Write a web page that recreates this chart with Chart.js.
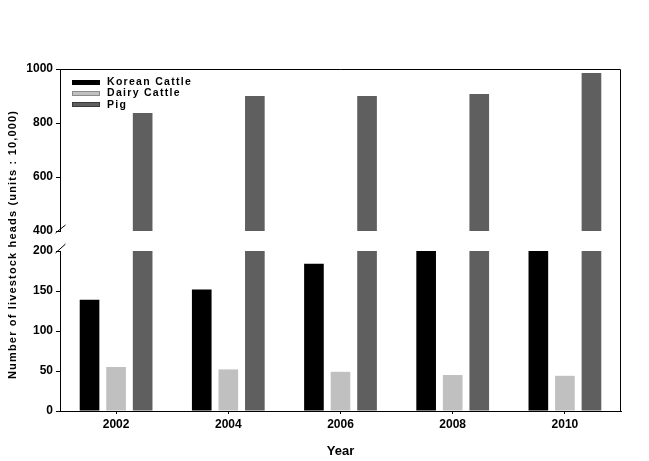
<!DOCTYPE html>
<html><head><meta charset="utf-8">
<script src="https://cdn.jsdelivr.net/npm/chart.js@4"></script>
<style>html,body{margin:0;padding:0;background:#fff;} canvas{display:block;}</style>
</head><body>
<canvas id="c" width="649" height="461"></canvas>
<script>
// ---- data ----
const years = ['2002', '2004', '2006', '2008', '2010'];
const koreanCattle = [139, 152, 184, 244, 293];
const dairyCattle = [55, 52, 49, 45, 44];
const pig = [837, 900, 900, 907, 985];
const upperTicks = [400, 600, 800, 1000];
const lowerTicks = [0, 50, 100, 150, 200];
const seriesNames = ['Korean Cattle', 'Dairy Cattle', 'Pig'];
const yTitle = 'Number of livestock heads (units : 10,000)';
const xTitle = 'Year';

const FONT = "'Liberation Sans', Arial, sans-serif";
const colors = ['#000000', '#c0c0c0', '#5f5f5f'];
const legendBorders = ['#000000', '#8a8a8a', '#3a3a3a'];

function drawSpaced(ctx, text, x, y, spacing, align, targetLen) {
  const chars = Array.from(text);
  const widths = chars.map(c => ctx.measureText(c).width);
  const natural = widths.reduce((a, b) => a + b, 0);
  if (targetLen) spacing = (targetLen - natural) / (chars.length - 1);
  const total = natural + spacing * (chars.length - 1);
  let cx = align === 'center' ? x - total / 2 : x;
  ctx.textAlign = 'left';
  chars.forEach((c, i) => { ctx.fillText(c, cx, y); cx += widths[i] + spacing; });
}

const clipPlugin = {
  id: 'panelClip',
  beforeDatasetDraw(chart, args) {
    const ys = args.meta.vScale, ca = chart.chartArea, ctx = chart.ctx;
    ctx.save();
    ctx.beginPath();
    ctx.rect(ca.left, ys.top, ca.right - ca.left, ys.bottom - ys.top);
    ctx.clip();
  },
  afterDatasetDraw(chart) { chart.ctx.restore(); }
};

const decoPlugin = {
  id: 'deco',
  afterDraw(chart) {
    const ctx = chart.ctx, ca = chart.chartArea;
    ctx.save();
    ctx.strokeStyle = '#000'; ctx.lineWidth = 1;
    const L = Math.round(ca.left) + 0.5, R = Math.round(ca.right) - 0.5, T = Math.round(ca.top) + 0.5, B = Math.round(ca.bottom);
    ctx.beginPath();
    ctx.moveTo(L - 0.5, T); ctx.lineTo(R, T);
    ctx.moveTo(R, T); ctx.lineTo(R, B);
    ctx.stroke();
    // axis break marks
    const up = chart.scales.yUpper, lo = chart.scales.yLower;
    ctx.beginPath();
    ctx.moveTo(L - 5, up.bottom + 2); ctx.lineTo(L + 5, up.bottom - 6);
    ctx.moveTo(L - 5, lo.top + 2); ctx.lineTo(L + 5, lo.top - 7);
    ctx.stroke();
    // y title
    ctx.fillStyle = '#000';
    ctx.font = 'bold 11px ' + FONT;
    ctx.textBaseline = 'middle';
    ctx.save();
    ctx.translate(13, 245);
    ctx.rotate(-Math.PI / 2);
    drawSpaced(ctx, yTitle, 0, 0, 0, 'center', 268);
    ctx.restore();
    // legend
    ctx.font = 'bold 10.5px ' + FONT;
    const items = chart.data.datasets.filter(d => d.inLegend);
    items.forEach((d, i) => {
      const cy = 82.4 + i * 11.2;
      ctx.fillStyle = d.backgroundColor;
      ctx.fillRect(72, Math.round(cy - 2.5), 28, 5);
      ctx.strokeStyle = d.legendBorder;
      ctx.strokeRect(72.5, Math.round(cy - 2.5) + 0.5, 27, 4);
      ctx.fillStyle = '#000';
      drawSpaced(ctx, d.label, 107, cy, 1.3, 'left');
    });
    ctx.restore();
  }
};

const tickFont = { family: FONT, size: 12, weight: 'bold' };

function yScale(ticksArr, stackWeight) {
  return {
    type: 'linear', position: 'left', stack: 'y', stackWeight: stackWeight,
    min: ticksArr[0], max: ticksArr[ticksArr.length - 1],
    afterBuildTicks: s => { s.ticks = ticksArr.map(v => ({ value: v })); },
    afterFit: s => { s.width = 60; },
    border: { display: true, color: '#000', width: 1 },
    grid: { display: true, drawOnChartArea: false, drawTicks: true, tickLength: 4, color: '#000' },
    ticks: { color: '#000', font: tickFont, padding: 3, autoSkip: false, callback: v => String(v) }
  };
}

new Chart(document.getElementById('c'), {
  type: 'bar',
  data: {
    labels: years,
    datasets: [
      { label: seriesNames[0], data: koreanCattle, backgroundColor: colors[0], legendBorder: legendBorders[0], yAxisID: 'yLower', stack: 'k', inLegend: true },
      { label: seriesNames[1], data: dairyCattle, backgroundColor: colors[1], legendBorder: legendBorders[1], yAxisID: 'yLower', stack: 'd', inLegend: true },
      { label: seriesNames[2], data: pig, backgroundColor: colors[2], legendBorder: legendBorders[2], yAxisID: 'yLower', stack: 'p', inLegend: true },
      { label: seriesNames[2], data: pig, backgroundColor: colors[2], yAxisID: 'yUpper', stack: 'p', inLegend: false }
    ]
  },
  options: {
    responsive: false,
    animation: false,
    devicePixelRatio: 1,
    layout: { padding: { top: 69, right: 28, left: 0, bottom: 0 } },
    datasets: { bar: { categoryPercentage: 0.71, barPercentage: 0.74 } },
    plugins: { legend: { display: false }, tooltip: { enabled: false } },
    scales: {
      x: {
        type: 'category', position: 'bottom',
        afterFit: s => { s.height = 50; },
        border: { display: true, color: '#000', width: 1 },
        grid: { display: true, drawOnChartArea: false, drawTicks: true, tickLength: 3, offset: false, color: '#000' },
        ticks: { color: '#000', font: tickFont, padding: 3 },
        title: { display: true, text: xTitle, color: '#000', font: { family: FONT, size: 13, weight: 'bold' }, padding: { top: 4, bottom: 2 } }
      },
      yLower: yScale(lowerTicks, 160),
      yGap: {
        type: 'linear', position: 'left', stack: 'y', stackWeight: 20,
        afterFit: s => { s.width = 60; },
        border: { display: false }, grid: { display: false }, ticks: { display: false }
      },
      yUpper: yScale(upperTicks, 162)
    }
  },
  plugins: [clipPlugin, decoPlugin]
});
</script>
</body></html>
